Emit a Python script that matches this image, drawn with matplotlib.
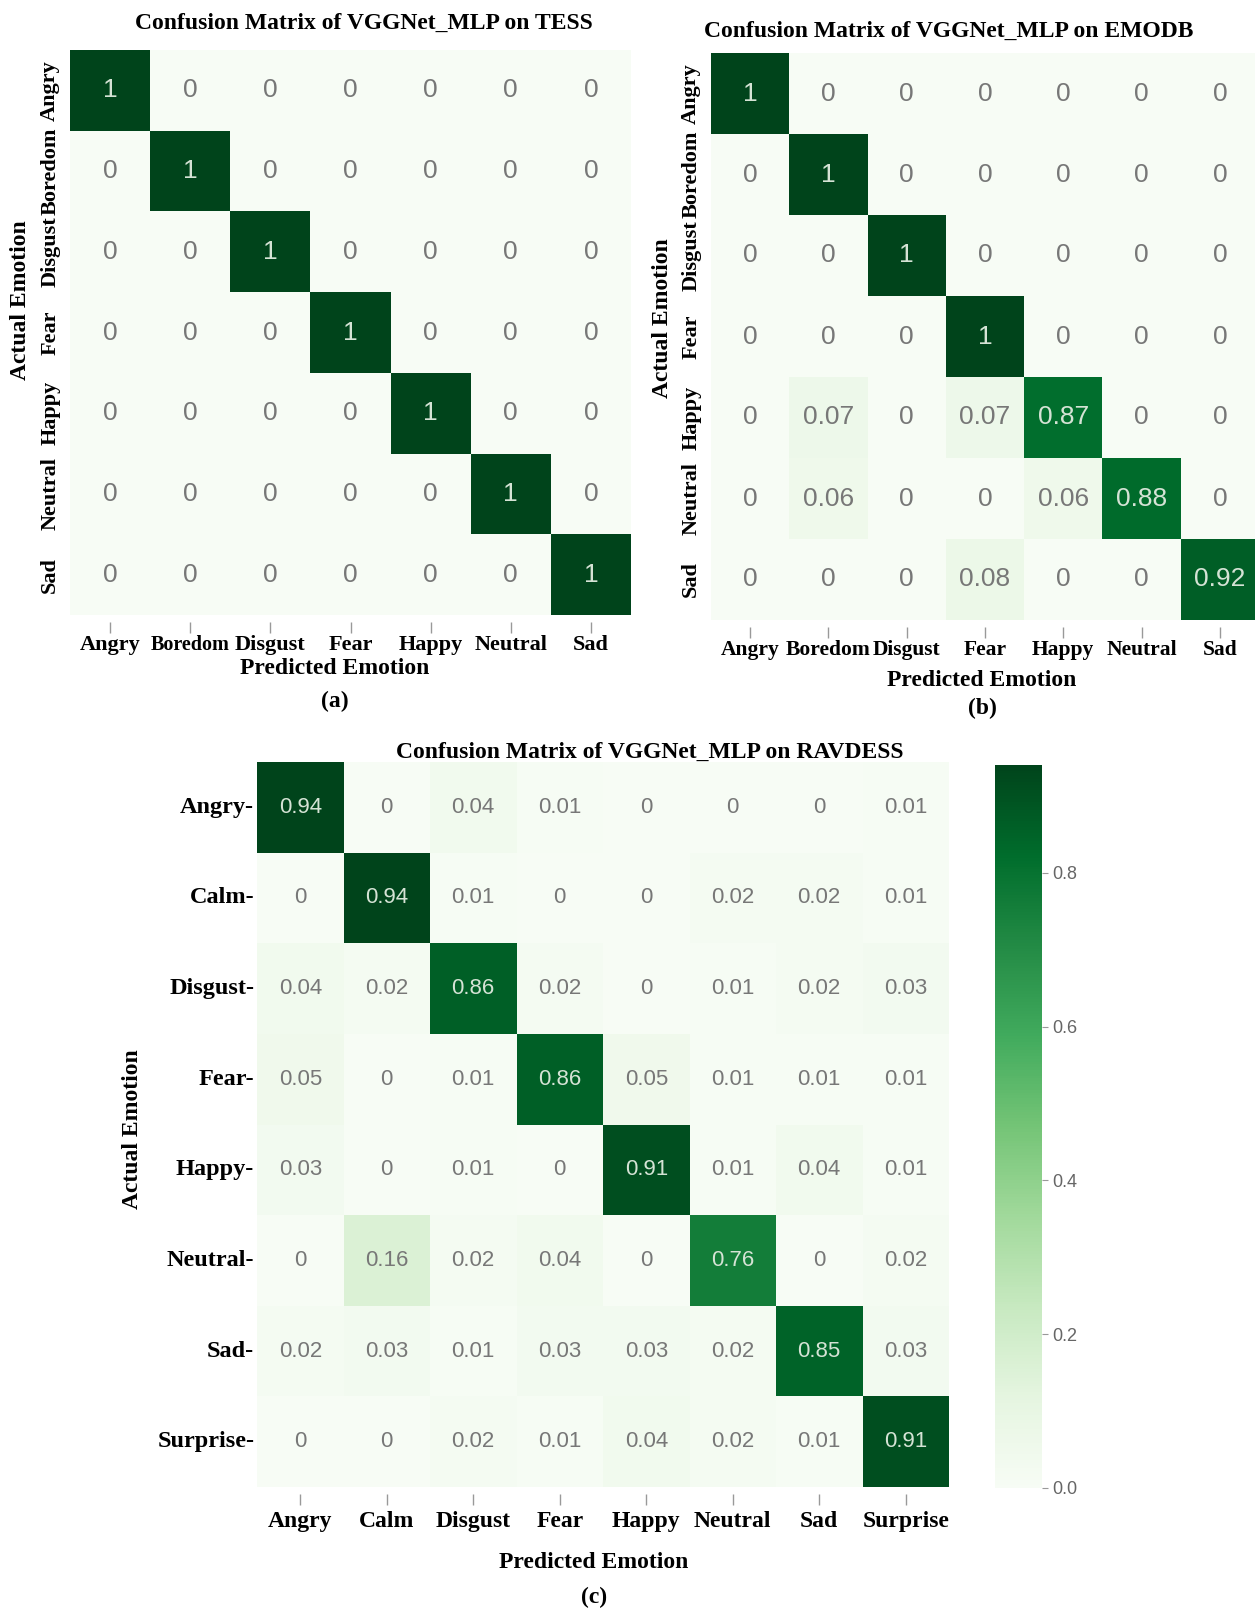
import numpy as np
import matplotlib
matplotlib.use("Agg")
import matplotlib.pyplot as plt
import seaborn as sns

# --- data ---
tess_labels = ["Angry", "Boredom", "Disgust", "Fear", "Happy", "Neutral", "Sad"]
tess_cm = np.eye(7)

emodb_labels = ["Angry", "Boredom", "Disgust", "Fear", "Happy", "Neutral", "Sad"]
emodb_cm = np.array([
    [1, 0, 0, 0, 0, 0, 0],
    [0, 1, 0, 0, 0, 0, 0],
    [0, 0, 1, 0, 0, 0, 0],
    [0, 0, 0, 1, 0, 0, 0],
    [0, 0.07, 0, 0.07, 0.87, 0, 0],
    [0, 0.06, 0, 0, 0.06, 0.88, 0],
    [0, 0, 0, 0.08, 0, 0, 0.92],
])

rav_labels = ["Angry", "Calm", "Disgust", "Fear", "Happy", "Neutral", "Sad", "Surprise"]
rav_cm = np.array([
    [0.94, 0, 0.04, 0.01, 0, 0, 0, 0.01],
    [0, 0.94, 0.01, 0, 0, 0.02, 0.02, 0.01],
    [0.04, 0.02, 0.86, 0.02, 0, 0.01, 0.02, 0.03],
    [0.05, 0, 0.01, 0.86, 0.05, 0.01, 0.01, 0.01],
    [0.03, 0, 0.01, 0, 0.91, 0.01, 0.04, 0.01],
    [0, 0.16, 0.02, 0.04, 0, 0.76, 0, 0.02],
    [0.02, 0.03, 0.01, 0.03, 0.03, 0.02, 0.85, 0.03],
    [0, 0, 0.02, 0.01, 0.04, 0.02, 0.01, 0.91],
])

W, H = 1255, 1609
SERIF = "Liberation Serif"
SANS = "Liberation Sans"
FS = 17


def box(l, t, r, b):
    return [l / W, 1 - b / H, (r - l) / W, (b - t) / H]


def label(x, y, s, rot=0, fs=FS):
    fig.text(x / W, 1 - y / H, s, rotation=rot, ha="center", va="center",
             fontsize=fs, fontweight="bold", family=SERIF)


def draw_cm(ax, cm, labels, vmax, cbar_ax=None, rot_y=True, dash=False, afs=19, xfs=16, yfs=16,
            xpad=1.5):
    sns.heatmap(cm, ax=ax, cmap="Greens", vmin=0, vmax=vmax, annot=True, fmt="g",
                cbar=cbar_ax is not None, cbar_ax=cbar_ax,
                annot_kws={"fontsize": afs, "family": SANS})
    for t, v in zip(ax.texts, cm.flatten()):
        t.set_color("#d5e3d5" if v > 0.5 * vmax else "#777777")
    # move the x ticks a bit below the cells (before setting labels, this resets ticks)
    ax.spines["bottom"].set_position(("outward", 5))
    ax.set_xticks(np.arange(len(labels)) + 0.5)
    ax.set_xticklabels(labels, rotation=0, fontsize=xfs, fontweight="bold", family=SERIF)
    ax.set_yticks(np.arange(len(labels)) + 0.5)
    ylab = [l + "-" for l in labels] if dash else labels
    ax.set_yticklabels(ylab, rotation=90 if rot_y else 0, va="center",
                       fontsize=yfs, fontweight="bold", family=SERIF)
    ax.tick_params(axis="x", length=8, width=1, color="#999999", pad=xpad)
    ax.tick_params(axis="y", length=0, pad=7 if rot_y else 2)
    ax.set_xlabel("")
    ax.set_ylabel("")


fig = plt.figure(figsize=(W / 100, H / 100), dpi=100)

# (a) TESS
ax1 = fig.add_axes(box(70, 50, 631, 615))
draw_cm(ax1, tess_cm, tess_labels, 1.0)
ax1.get_xticklabels()[1].set_fontsize(14.5)
label(364, 23, "Confusion Matrix of VGGNet_MLP on TESS")
label(21, 300, "Actual Emotion", rot=90)
label(335, 669, "Predicted Emotion")
label(335, 701, "(a)")

# (b) EMODB
ax2 = fig.add_axes(box(711, 53, 1259, 620))
draw_cm(ax2, emodb_cm, emodb_labels, 1.0, xfs=15.5)
label(949, 31, "Confusion Matrix of VGGNet_MLP on EMODB")
label(662, 318, "Actual Emotion", rot=90)
label(982, 681, "Predicted Emotion")
label(982, 708, "(b)")

# (c) RAVDESS
ax3 = fig.add_axes(box(257, 762, 949, 1487))
cax = fig.add_axes(box(995, 765, 1042, 1488))
draw_cm(ax3, rav_cm, rav_labels, 0.94, cbar_ax=cax, rot_y=False, dash=True,
        afs=16, xfs=17, yfs=17.5, xpad=4)
cax.set_yticks([0.0, 0.2, 0.4, 0.6, 0.8])
cax.set_yticklabels(["0.0", "0.2", "0.4", "0.6", "0.8"], family=SANS)
cax.tick_params(length=4, color="#999999", labelsize=13, labelcolor="#666666")
label(650, 752, "Confusion Matrix of VGGNet_MLP on RAVDESS")
label(133, 1129, "Actual Emotion", rot=90)
label(594, 1562, "Predicted Emotion")
label(594, 1597, "(c)")

fig.savefig("out.png", dpi=100)
